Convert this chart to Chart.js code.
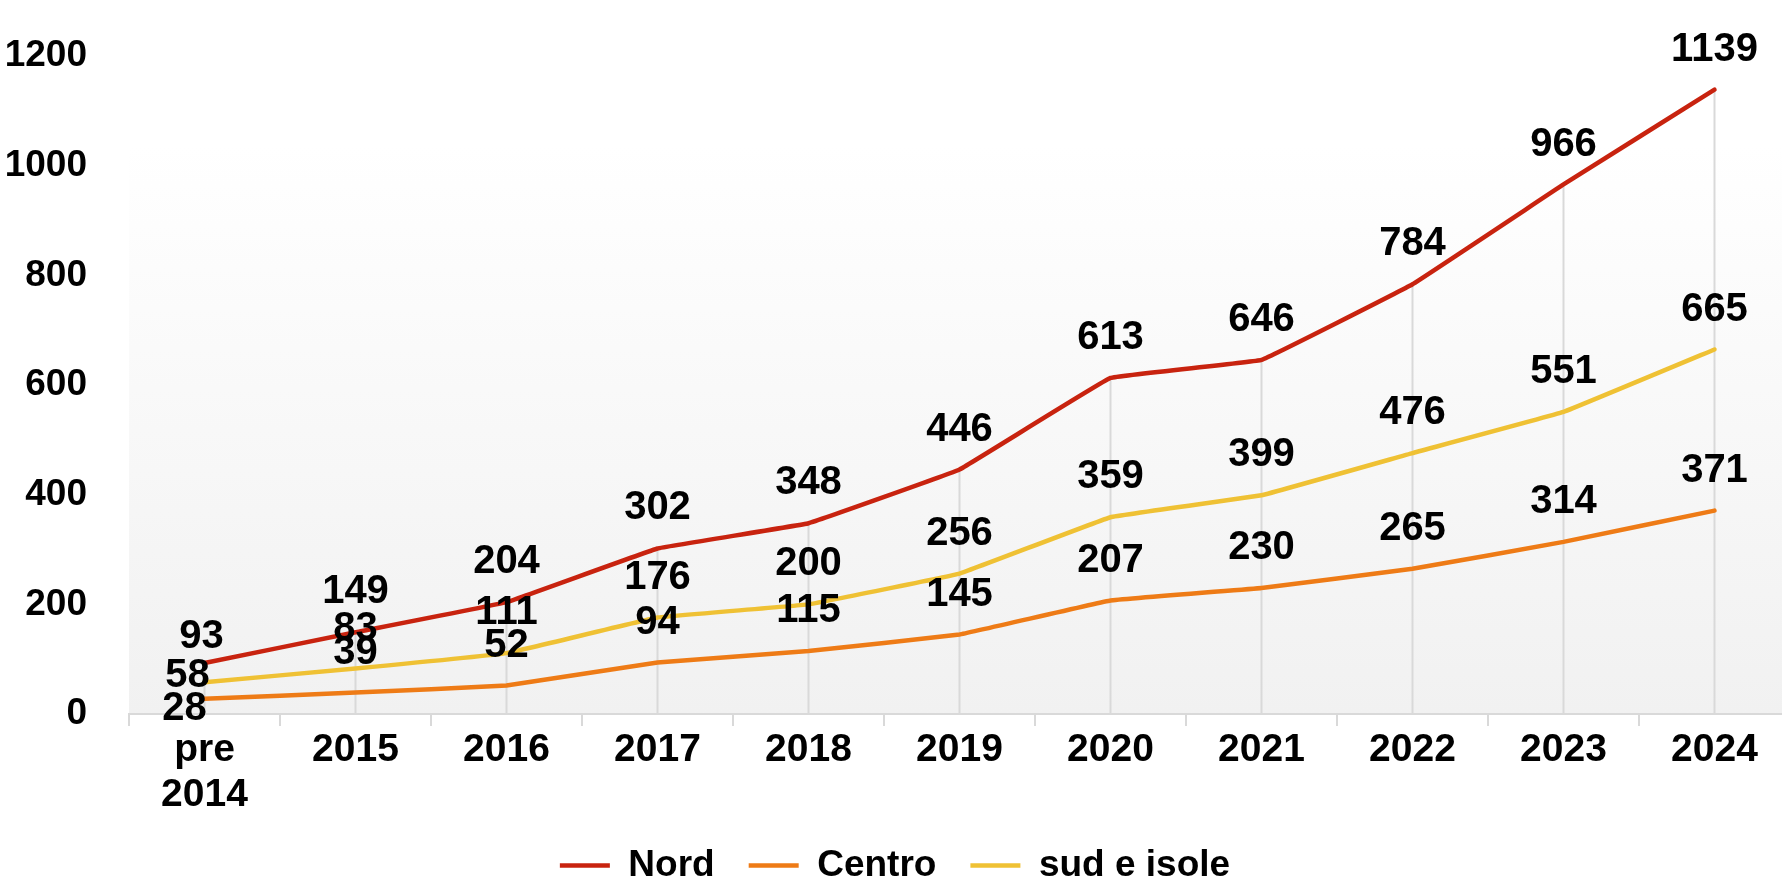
<!DOCTYPE html>
<html>
<head>
<meta charset="utf-8">
<script src="https://cdn.jsdelivr.net/npm/chart.js@4/dist/chart.umd.min.js"></script>
<style>
    html, body { margin: 0; padding: 0; background: #fff; overflow: hidden; }
    /* a little taller/wider than the window so the plot runs off the right
       edge and the legend sits on the bottom edge, like the original */
    #wrap { position: relative; width: 1790px; height: 894px; }
</style>
</head>
<body>
<div id="wrap"><canvas id="chart"></canvas></div>
<script>
const categories = [['pre', '2014'], '2015', '2016', '2017', '2018', '2019', '2020', '2021', '2022', '2023', '2024'];
const nord = [93, 149, 204, 302, 348, 446, 613, 646, 784, 966, 1139];
const centro = [28, 39, 52, 94, 115, 145, 207, 230, 265, 314, 371];
const sudIsole = [58, 83, 111, 176, 200, 256, 359, 399, 476, 551, 665];
const yTicks = [0, 200, 400, 600, 800, 1000, 1200];

const FONT = '"Liberation Sans", Arial, sans-serif';

// Plot background: white near the top fading to light grey at the axis
const backgroundPlugin = {
    id: 'plotBackground',
    beforeDraw(chart) {
        const { ctx, chartArea: { top, bottom, left, right } } = chart;
        const start = top + 89;
        const g = ctx.createLinearGradient(0, start, 0, bottom);
        g.addColorStop(0, '#ffffff');
        g.addColorStop(1, '#f1f1f1');
        ctx.save();
        ctx.fillStyle = g;
        ctx.fillRect(left, start, right - left, bottom - start);
        ctx.restore();
    }
};

// Excel-style drop lines from the highest point of each category down to the axis
const dropLinesPlugin = {
    id: 'dropLines',
    beforeDatasetsDraw(chart) {
        const { ctx, chartArea: { bottom }, scales: { x, y } } = chart;
        ctx.save();
        ctx.strokeStyle = '#d9d9d9';
        ctx.lineWidth = 2;
        categories.forEach((c, i) => {
            const top = Math.max(...chart.data.datasets.map(ds => ds.data[i]));
            const px = x.getPixelForValue(i);
            ctx.beginPath();
            ctx.moveTo(px, y.getPixelForValue(top));
            ctx.lineTo(px, bottom);
            ctx.stroke();
        });
        ctx.restore();
    }
};

// Value labels above each point; the first column is nudged like the original
const firstColShift = [
    { dx: -3, dy: 26 },   // Nord
    { dx: -20, dy: -10 }, // Centro
    { dx: -17, dy: 6 }    // sud e isole
];
const valueLabelsPlugin = {
    id: 'valueLabels',
    afterDatasetsDraw(chart) {
        const { ctx } = chart;
        ctx.save();
        ctx.font = `bold 40px ${FONT}`;
        ctx.fillStyle = '#000';
        ctx.textAlign = 'center';
        ctx.textBaseline = 'middle';
        chart.data.datasets.forEach((ds, di) => {
            const meta = chart.getDatasetMeta(di);
            meta.data.forEach((pt, i) => {
                let dx = 0, dy = 40;
                if (i === 0) {
                    dx = firstColShift[di].dx;
                    dy = firstColShift[di].dy;
                }
                ctx.fillText(String(ds.data[i]), pt.x + dx, pt.y - dy);
            });
        });
        ctx.restore();
    }
};

function series(label, data, color) {
    return {
        label: label,
        data: data,
        borderColor: color,
        backgroundColor: color,
        borderWidth: 4.5,
        borderCapStyle: 'round',
        tension: 0.05,
        pointRadius: 0,
        pointHoverRadius: 0,
        fill: false
    };
}

new Chart(document.getElementById('chart').getContext('2d'), {
    type: 'line',
    data: {
        labels: categories,
        datasets: [
            series('Nord', nord, '#c8230f'),
            series('Centro', centro, '#ee7b16'),
            series('sud e isole', sudIsole, '#efc134')
        ]
    },
    options: {
        responsive: true,
        maintainAspectRatio: false,
        animation: false,
        layout: { autoPadding: false, padding: { top: 29, left: 0, right: 0, bottom: 0 } },
        plugins: {
            tooltip: { enabled: false },
            legend: {
                position: 'bottom',
                labels: {
                    usePointStyle: true,
                    pointStyle: 'line',
                    pointStyleWidth: 50,
                    boxWidth: 50,
                    padding: 34,
                    color: '#000',
                    font: { family: FONT, size: 37, weight: 'bold' }
                }
            }
        },
        scales: {
            x: {
                type: 'category',
                offset: true,
                grid: {
                    offset: true,
                    drawOnChartArea: false,
                    color: '#d9d9d9',
                    lineWidth: 2,
                    tickLength: 12
                },
                border: { display: true, color: '#d9d9d9', width: 2 },
                ticks: {
                    color: '#000',
                    padding: 1,
                    maxRotation: 0,
                    autoSkip: false,
                    font: { family: FONT, size: 39, weight: 'bold', lineHeight: 1.17 }
                },
                afterFit(scale) { scale.height = 99; }
            },
            y: {
                min: 0,
                max: 1200,
                afterBuildTicks(scale) { scale.ticks = yTicks.map(v => ({ value: v })); },
                grid: { display: false },
                border: { display: false },
                ticks: {
                    color: '#000',
                    padding: 34,
                    callback: (v) => String(v),
                    font: { family: FONT, size: 37, weight: 'bold' }
                },
                afterFit(scale) { scale.width = 129; }
            }
        }
    },
    plugins: [backgroundPlugin, dropLinesPlugin, valueLabelsPlugin]
});
</script>
</body>
</html>
